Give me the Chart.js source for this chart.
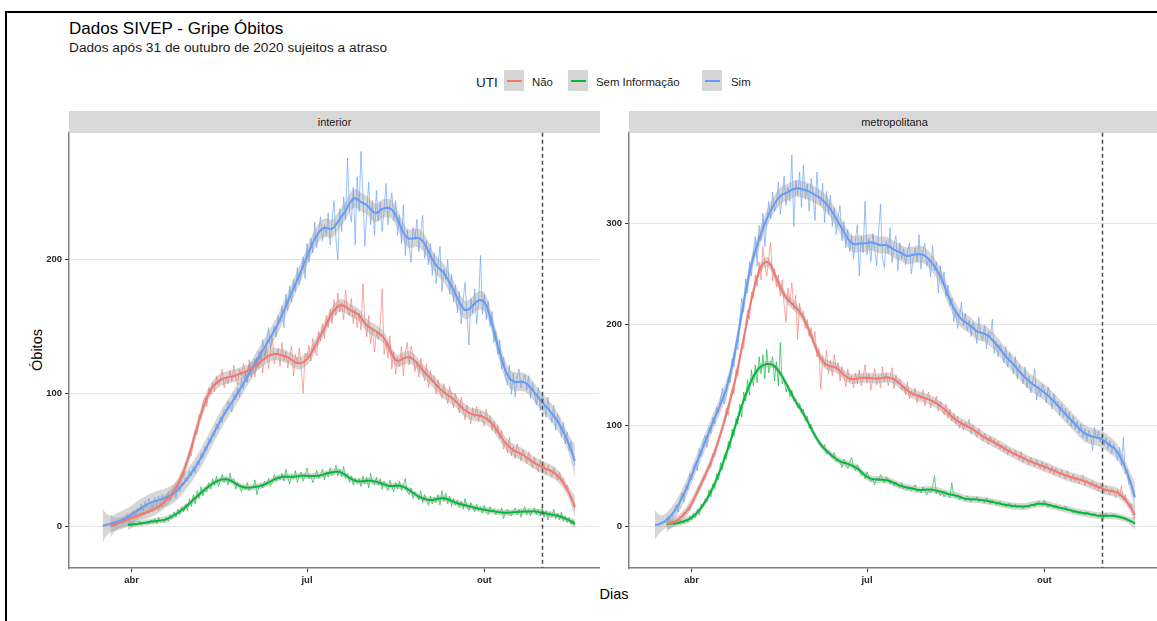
<!DOCTYPE html>
<html><head><meta charset="utf-8">
<script src="https://cdn.jsdelivr.net/npm/chart.js@4.4.1/dist/chart.umd.min.js"></script>
<style>
html,body{margin:0;padding:0;background:#fff;width:1157px;height:621px;overflow:hidden;font-family:"Liberation Sans",Arial,sans-serif;}
.abs{position:absolute;white-space:nowrap;line-height:1;}
canvas{position:absolute;}
.strip{position:absolute;background:#d9d9d9;color:#1a1a1a;font-size:11px;text-align:center;line-height:22px;height:22px;}
.key{position:absolute;width:20px;height:21px;background:#d6d6d6;}
.key span{position:absolute;left:3px;top:9.5px;width:15px;height:2px;}
</style></head><body>
<div class="abs" style="left:5px;top:11px;width:1200px;height:700px;border-top:2px solid #000;border-left:2px solid #000;"></div>
<div class="abs" style="left:69px;top:19.8px;font-size:17px;color:#000;">Dados SIVEP - Gripe Óbitos</div>
<div class="abs" style="left:69px;top:41px;font-size:13.7px;color:#1a1a1a;">Dados após 31 de outubro de 2020 sujeitos a atraso</div>

<div class="abs" style="left:476px;top:75.6px;font-size:13.5px;color:#1a1a1a;">UTI</div>
<div class="key" style="left:504px;top:70px;"><span style="background:#F8766D"></span></div>
<div class="abs" style="left:532px;top:76.5px;font-size:11.4px;color:#1a1a1a;">Não</div>
<div class="key" style="left:568px;top:70px;"><span style="background:#00BA38"></span></div>
<div class="abs" style="left:596px;top:76.5px;font-size:11.4px;color:#1a1a1a;">Sem Informação</div>
<div class="key" style="left:702px;top:70px;"><span style="background:#619CFF"></span></div>
<div class="abs" style="left:731px;top:76.5px;font-size:11.4px;color:#1a1a1a;">Sim</div>

<div class="strip" style="left:69px;top:111px;width:531px;">interior</div>
<div class="strip" style="left:629px;top:111px;width:531px;">metropolitana</div>

<div class="abs" style="left:37px;top:350px;font-size:14.5px;color:#000;transform:translate(-50%,-50%) rotate(-90deg);">Óbitos</div>
<div class="abs" style="left:614px;top:594px;font-size:14.5px;color:#000;transform:translate(-50%,-50%);">Dias</div>

<canvas id="cInt" width="600" height="480"></canvas>
<canvas id="cMet" width="600" height="480"></canvas>

<script>
// Day 0 = 12 mar 2020
const xTickDays = [20, 111, 203];
const xTickLabels = ['abr', 'jul', 'out'];
const cutoffDay = 233; // 31 out 2020
const seriesNames = ['Não', 'Sem Informação', 'Sim'];
const seriesColors = ['#F8766D', '#00BA38', '#619CFF'];
const interiorYTicks = [0, 100, 200];
const metroYTicks = [0, 100, 200, 300];

// ---- interior ----
const intNaoStart = 9;
const intNao = [
0,1,2,1,3,4,2,5,3,6,
5,8,6,9,7,10,8,11,9,12,
10,14,11,13,16,12,18,15,21,19,
23,20,27,25,31,29,36,40,37,47,
50,56,53,66,72,69,84,81,93,97,
90,104,99,108,101,113,106,110,118,104,
112,107,117,109,121,111,106,118,113,122,
115,108,125,117,121,112,127,119,132,115,
126,135,118,130,141,122,128,133,120,138,
124,131,119,127,135,113,129,122,134,118,
100,130,127,136,124,141,133,128,146,139,
152,141,158,149,163,152,170,158,175,161,
168,155,177,162,158,171,152,163,149,160,
147,182,154,142,158,137,149,131,146,140,
151,178,129,138,126,143,118,131,114,127,
120,135,113,130,138,121,135,129,116,124,
112,126,118,109,122,104,117,108,113,99,
110,101,96,107,99,92,105,97,89,100,
94,85,97,88,80,91,84,77,89,82,
90,79,86,81,75,88,78,83,72,79,
70,76,66,72,58,64,55,67,53,60,
51,62,57,49,58,53,47,56,50,44,
52,45,41,50,43,47,39,46,42,37,
44,39,35,41,33,36,29,31,25,22,
18,13];

const intSemStart = 18;
const intSem = [
1,2,0,3,2,1,4,1,3,2,
4,2,5,3,6,2,7,4,5,3,
7,4,9,6,11,7,13,9,15,11,
17,12,21,15,24,17,27,21,30,23,
29,26,33,28,36,31,38,30,34,39,
33,37,31,40,34,36,28,33,30,26,
31,28,33,27,30,29,35,24,30,32,
29,34,31,36,30,33,39,34,38,35,
40,34,43,37,32,39,36,42,33,38,
41,34,39,44,36,38,33,37,42,36,
39,43,35,41,37,44,38,40,46,38,
43,37,45,36,40,33,38,31,36,33,
36,30,38,32,37,29,40,33,31,37,
31,36,28,34,31,27,35,30,26,33,
28,34,27,31,36,26,24,29,21,26,
23,20,27,18,24,20,16,23,17,22,
18,24,16,27,19,25,17,23,15,21,
16,20,14,19,13,21,15,12,18,14,
11,17,12,15,10,16,11,9,15,11,
13,9,12,10,14,6,11,13,9,8,
12,14,9,13,7,12,15,9,13,8,
12,14,9,13,8,15,7,12,5,11,
7,13,6,10,5,11,4,8,3,7,
2,5,1];

const intSimStart = 5;
const intSim = [
0,1,2,1,3,2,4,3,5,4,
6,3,7,9,5,10,12,8,14,11,
17,12,19,15,21,16,14,22,18,23,
19,24,17,22,26,20,25,28,21,30,
26,33,31,37,34,42,38,45,40,49,
46,55,51,60,57,66,63,70,68,77,
73,82,78,88,85,94,90,86,99,95,
104,97,110,103,115,108,121,112,118,126,
119,131,125,140,128,137,149,133,144,150,
142,158,153,165,149,174,162,180,168,185,
176,194,181,190,202,186,212,198,216,205,
228,209,222,232,214,226,218,235,211,229,
244,216,200,238,221,247,230,276,237,228,
254,211,262,236,281,249,210,235,258,226,
244,218,252,229,243,221,238,257,226,241,
250,229,244,218,233,212,241,203,222,209,
198,224,215,230,206,219,233,201,214,196,
212,188,205,182,197,210,176,193,185,200,
174,189,168,181,160,176,152,170,183,158,
136,171,160,178,152,168,203,159,174,155,
169,150,161,138,146,129,140,118,127,112,
106,121,99,115,97,112,118,104,109,114,
102,113,96,108,100,91,104,87,99,93,
82,97,86,78,91,72,84,80,67,78,
62,71,57,64,52,46];

// ---- metropolitana ----
const metNaoStart = 7;
const metNao = [
1,3,2,5,4,7,6,10,9,14,
12,17,15,22,26,31,35,40,43,49,
47,56,60,58,72,69,81,86,92,98,
104,117,110,128,136,131,155,149,168,181,
176,199,214,205,232,226,249,238,262,244,
277,259,248,266,281,243,255,237,249,228,
244,219,202,236,222,241,215,229,185,221,
208,213,196,205,188,197,182,193,168,176,
136,169,158,174,151,165,149,170,155,162,
144,158,150,138,156,143,149,137,152,141,
155,139,148,160,142,151,135,147,156,140,
149,137,158,143,152,139,148,157,136,150,
141,146,135,139,130,143,126,134,129,137,
122,131,126,135,119,128,133,117,125,121,
129,114,124,118,110,121,107,116,104,112,
101,109,97,105,95,103,98,106,91,100,
94,88,97,90,84,92,87,81,89,83,
86,79,84,76,81,74,80,71,77,73,
69,75,70,66,74,63,69,65,61,68,
63,59,66,60,57,64,55,62,58,53,
59,51,57,54,49,56,50,47,55,48,
45,52,44,49,42,47,51,40,46,43,
39,45,37,42,35,41,38,33,40,36,
31,37,34,28,36,30,40,26,31,23,
19,22,14,8];

const metSemStart = 7;
const metSem = [
1,3,2,4,2,5,3,6,4,3,
7,4,10,6,13,8,17,11,22,19,
27,24,36,29,42,37,52,46,63,56,
71,66,84,77,96,89,107,101,121,108,
133,124,145,130,155,139,160,142,168,151,
170,146,175,152,161,168,144,163,139,182,
141,146,133,140,128,135,124,126,117,122,
112,116,104,109,97,101,93,88,86,82,
80,77,81,72,75,70,68,73,64,67,
64,58,66,61,57,63,68,59,55,61,
56,50,53,47,54,49,44,46,41,48,
45,51,47,43,49,46,42,45,40,44,
41,38,43,37,40,36,39,35,38,41,
34,37,33,39,35,31,36,33,38,50,
32,35,30,33,29,34,31,28,43,30,
28,31,26,29,27,25,30,27,24,28,
26,29,24,27,25,23,28,25,22,26,
24,21,23,25,20,22,19,21,23,18,
20,22,18,21,19,17,21,20,18,22,
21,19,23,25,22,20,26,21,19,22,
20,18,21,17,19,16,18,20,15,17,
15,13,16,14,12,15,13,11,14,13,
12,10,13,11,9,12,4,11,13,10,
11,9,12,10,8,10,9,7,8,6,
5,6,4,2];

const metSimStart = 1;
const metSim = [
0,2,1,4,5,3,8,6,11,9,
16,21,14,27,33,24,40,36,52,46,
58,63,55,77,69,84,90,78,98,92,
108,101,118,113,126,137,121,130,148,142,
166,158,182,175,203,226,212,245,231,262,
248,271,287,258,298,283,310,277,302,322,
305,331,312,318,341,309,326,347,318,336,
322,368,297,343,328,351,316,358,324,339,
312,345,329,303,351,325,318,340,301,332,
309,328,297,316,289,307,318,283,302,276,
294,272,288,265,284,299,248,287,271,322,
269,285,262,290,274,258,291,319,266,256,
283,270,296,261,279,288,253,281,265,275,
259,272,281,250,266,276,262,289,255,273,
280,258,266,247,278,253,262,231,258,240,
252,228,239,218,226,203,215,196,208,222,
199,211,194,204,188,202,196,181,207,190,
184,199,176,193,186,205,171,183,168,180,
175,162,178,158,172,164,151,168,146,160,
153,141,158,137,149,132,143,156,125,139,
128,141,135,122,138,129,116,131,119,124,
110,121,108,117,103,113,99,109,96,104,
92,101,88,97,84,95,90,75,98,86,
94,83,91,80,88,76,85,72,81,74,
65,78,60,88,52,56,41,44,32,28];

const SPAN = 0.1;

function loess(xs, ys, span) {
  const n = xs.length, q = Math.max(4, Math.floor(span * n));
  const fit = new Array(n), ss = new Array(n);
  let tr = 0;
  for (let i = 0; i < n; i++) {
    const x0 = xs[i];
    const d = xs.map(x => Math.abs(x - x0)).sort((a, b) => a - b);
    const h = Math.max(d[Math.min(q, n) - 1], 1) * 1.0001;
    const w = new Array(n).fill(0), t = new Array(n).fill(0);
    const M = [[0,0,0],[0,0,0],[0,0,0]];
    for (let j = 0; j < n; j++) {
      const u = (xs[j] - x0) / h;
      const a = Math.abs(u);
      if (a < 1) {
        const wj = Math.pow(1 - a * a * a, 3);
        w[j] = wj; t[j] = u;
        const p = [1, u, u * u];
        for (let r = 0; r < 3; r++) for (let c = 0; c < 3; c++) M[r][c] += wj * p[r] * p[c];
      }
    }
    const [a, b, c] = M[0], [d2, e, f] = M[1], [g, hh, k] = M[2];
    const A = e * k - f * hh, B = -(d2 * k - f * g), C = d2 * hh - e * g;
    const det = a * A + b * B + c * C;
    const c0 = A / det, c1 = -(b * k - c * hh) / det, c2 = (b * f - c * e) / det;
    let s = 0, s2 = 0;
    for (let j = 0; j < n; j++) {
      if (w[j] === 0) continue;
      const l = w[j] * (c0 + c1 * t[j] + c2 * t[j] * t[j]);
      s += l * ys[j]; s2 += l * l;
      if (j === i) tr += l;
    }
    fit[i] = s; ss[i] = s2;
  }
  let rss = 0;
  for (let i = 0; i < n; i++) rss += (ys[i] - fit[i]) ** 2;
  const sigma = Math.sqrt(rss / Math.max(1, n - tr));
  return xs.map((x, i) => ({ x, y: fit[i], lo: fit[i] - 1.97 * sigma * Math.sqrt(ss[i]), hi: fit[i] + 1.97 * sigma * Math.sqrt(ss[i]) }));
}

function hexA(hex, a) {
  const r = parseInt(hex.slice(1, 3), 16), g = parseInt(hex.slice(3, 5), 16), b = parseInt(hex.slice(5, 7), 16);
  return `rgba(${r},${g},${b},${a})`;
}

const cutoffPlugin = {
  id: 'cutoff',
  afterDatasetsDraw(chart) {
    const { ctx, chartArea: a, scales: { x } } = chart;
    const px = Math.round(x.getPixelForValue(cutoffDay)) + 0.5;
    ctx.save();
    ctx.beginPath();
    ctx.setLineDash([4, 3]);
    ctx.strokeStyle = '#4d4d4d';
    ctx.lineWidth = 1.5;
    ctx.moveTo(px, a.top);
    ctx.lineTo(px, a.bottom);
    ctx.stroke();
    ctx.restore();
  }
};

function buildDatasets(series) {
  const ds = [];
  series.forEach((s, k) => {
    const xs = s.values.map((v, i) => s.start + i);
    const sm = loess(xs, s.values, SPAN);
    const col = seriesColors[k];
    ds.push({ label: seriesNames[k], data: s.values.map((v, i) => ({ x: xs[i], y: v })), borderColor: hexA(col, 0.8), borderWidth: 0.8, order: 30, fill: false });
    ds.push({ label: seriesNames[k] + ' lo', data: sm.map(p => ({ x: p.x, y: p.lo })), borderColor: 'rgba(0,0,0,0)', borderWidth: 0, order: 20, fill: false });
    ds.push({ label: seriesNames[k] + ' hi', data: sm.map(p => ({ x: p.x, y: p.hi })), borderColor: 'rgba(0,0,0,0)', borderWidth: 0, order: 20, fill: '-1', backgroundColor: 'rgba(153,153,153,0.4)' });
    ds.push({ label: seriesNames[k] + ' smooth', data: sm.map(p => ({ x: p.x, y: p.y })), borderColor: col, borderWidth: 2, order: 10, fill: false });
  });
  return ds;
}

const tickFont = { family: '"Liberation Sans", Arial, sans-serif', size: 9.5, weight: 'bold' };

function makeChart(id, series, yMin, yMax, yTicks, box) {
  const chart = new Chart(document.getElementById(id), {
    type: 'line',
    data: { datasets: buildDatasets(series) },
    options: {
      responsive: false, maintainAspectRatio: false, animation: false, events: [],
      layout: { padding: 0 },
      plugins: { legend: { display: false }, tooltip: { enabled: false } },
      elements: { point: { radius: 0 }, line: { tension: 0 } },
      scales: {
        x: {
          type: 'linear', min: -12.5, max: 262.5,
          afterBuildTicks: sc => { sc.ticks = xTickDays.map(v => ({ value: v })); },
          afterFit: sc => { sc.height = 35; },
          ticks: { callback: (v, i) => xTickLabels[i], autoSkip: false, maxRotation: 0, padding: 3, font: tickFont, color: '#262626' },
          grid: { drawOnChartArea: false, drawTicks: true, tickLength: 4, tickColor: '#333', tickWidth: 1 },
          border: { display: true, color: '#808080', width: 1.5 }
        },
        y: {
          type: 'linear', min: yMin, max: yMax,
          afterBuildTicks: sc => { sc.ticks = yTicks.map(v => ({ value: v })); },
          afterFit: sc => { sc.width = 39; },
          ticks: { padding: 3, font: tickFont, color: '#262626' },
          grid: { color: '#e5e5e5', lineWidth: 1, drawTicks: true, tickLength: 4, tickColor: '#333', tickWidth: 1 },
          border: { display: true, color: '#808080', width: 1.5 }
        }
      }
    },
    plugins: [cutoffPlugin]
  });
  const a = chart.chartArea;
  const padL = a.left, padT = a.top, padR = chart.width - a.right, padB = chart.height - a.bottom;
  const W = Math.round(box.width + padL + padR), H = Math.round(box.height + padT + padB);
  chart.canvas.style.left = (box.left - padL) + 'px';
  chart.canvas.style.top = (box.top - padT) + 'px';
  chart.resize(W, H);
  return chart;
}

makeChart('cInt', [
  { start: intNaoStart, values: intNao },
  { start: intSemStart, values: intSem },
  { start: intSimStart, values: intSim }
], -31, 295, interiorYTicks, { left: 69, top: 133, width: 531, height: 435 });

makeChart('cMet', [
  { start: metNaoStart, values: metNao },
  { start: metSemStart, values: metSem },
  { start: metSimStart, values: metSim }
], -41.5, 390, metroYTicks, { left: 629, top: 133, width: 531, height: 435 });
</script>
</body></html>
